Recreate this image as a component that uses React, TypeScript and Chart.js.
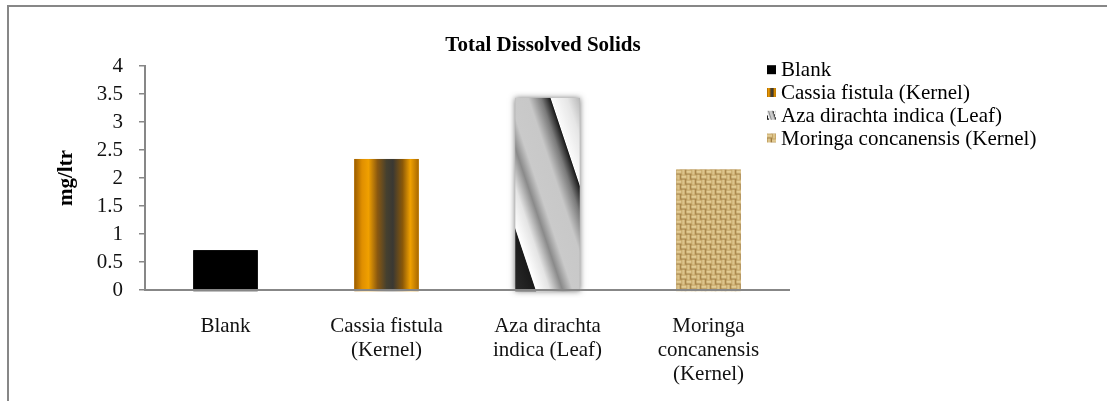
import React, { useEffect, useRef } from 'react';
import { Chart, registerables } from 'chart.js';

Chart.register(...registerables);

const TITLE = 'Total Dissolved Solids';
const Y_TITLE = 'mg/ltr';
const categories = ['Blank', 'Cassia fistula (Kernel)', 'Aza dirachta indica (Leaf)', 'Moringa concanensis (Kernel)'];
const categoryLines = [['Blank'], ['Cassia fistula', '(Kernel)'], ['Aza dirachta', 'indica (Leaf)'], ['Moringa', 'concanensis', '(Kernel)']];
const values = [0.71, 2.34, 3.43, 2.15];
const yTicks = [0, 0.5, 1, 1.5, 2, 2.5, 3, 3.5, 4];
const yTickLabels = ['0', '0.5', '1', '1.5', '2', '2.5', '3', '3.5', '4'];
const baseColors = ['#000000', '#e09000', '#b8b8b8', '#c9aa6c'];

const FONT = '"Liberation Serif", "Times New Roman", serif';
const AXIS_GRAY = '#878787';

type Rect = { l: number; t: number; r: number; b: number };

function fillBlank(ctx: CanvasRenderingContext2D, rc: Rect) {
  ctx.fillStyle = '#000000';
  ctx.fillRect(rc.l, rc.t, rc.r - rc.l, rc.b - rc.t);
}

function fillCassia(ctx: CanvasRenderingContext2D, rc: Rect) {
  const g = ctx.createLinearGradient(rc.l, 0, rc.r, 0);
  g.addColorStop(0, '#9a5c00');
  g.addColorStop(0.12, '#e08f00');
  g.addColorStop(0.22, '#f0a000');
  g.addColorStop(0.36, '#8a5810');
  g.addColorStop(0.5, '#45402f');
  g.addColorStop(0.6, '#3a3833');
  g.addColorStop(0.75, '#8a5808');
  g.addColorStop(0.87, '#f0a000');
  g.addColorStop(1, '#a86800');
  ctx.fillStyle = g;
  ctx.fillRect(rc.l, rc.t, rc.r - rc.l, rc.b - rc.t);
}

function fillAza(ctx: CanvasRenderingContext2D, rc: Rect, shadow: boolean) {
  const w = rc.r - rc.l;
  const h = rc.b - rc.t;
  if (shadow) {
    ctx.save();
    ctx.shadowColor = 'rgba(0,0,0,0.55)';
    ctx.shadowBlur = 6;
    ctx.fillStyle = '#bbbbbb';
    ctx.fillRect(rc.l, rc.t, w, h);
    ctx.restore();
  }
  const d = (3 * w + h) / 10;
  const g = ctx.createLinearGradient(rc.l, rc.b, rc.l + 3 * d, rc.b - d);
  g.addColorStop(0, '#2a2a2a');
  g.addColorStop(0.158, '#1a1a1a');
  g.addColorStop(0.165, '#ffffff');
  g.addColorStop(0.27, '#e4e4e4');
  g.addColorStop(0.37, '#8a8a8a');
  g.addColorStop(0.45, '#cacaca');
  g.addColorStop(0.6, '#c8c8c8');
  g.addColorStop(0.7, '#7a7a7a');
  g.addColorStop(0.77, '#1a1a1a');
  g.addColorStop(0.777, '#fbfbfb');
  g.addColorStop(0.9, '#e6e6e6');
  g.addColorStop(1, '#b8b8b8');
  ctx.fillStyle = g;
  ctx.fillRect(rc.l, rc.t, w, h);
}

let burlap: HTMLCanvasElement | null = null;
function getBurlap(): HTMLCanvasElement {
  if (burlap) return burlap;
  const pc = document.createElement('canvas');
  pc.width = 20;
  pc.height = 20;
  const p = pc.getContext('2d') as CanvasRenderingContext2D;
  p.fillStyle = '#c4a465';
  p.fillRect(0, 0, 20, 20);
  for (let i = 0; i < 4; i++) {
    for (let j = 0; j < 4; j++) {
      const x = i * 5;
      const y = j * 5;
      if ((i + j) % 2 === 0) {
        p.fillStyle = '#e2cb94';
        p.fillRect(x, y + 1, 5, 2);
        p.fillStyle = '#d6bb80';
        p.fillRect(x, y + 3, 5, 1);
        p.fillStyle = '#a5834a';
        p.fillRect(x, y + 4, 5, 1);
      } else {
        p.fillStyle = '#dcc48c';
        p.fillRect(x + 1, y, 2, 5);
        p.fillStyle = '#caa96c';
        p.fillRect(x + 3, y, 1, 5);
        p.fillStyle = '#9c7a40';
        p.fillRect(x + 4, y, 1, 5);
      }
    }
  }
  burlap = pc;
  return pc;
}

function fillMoringa(ctx: CanvasRenderingContext2D, rc: Rect) {
  const pat = ctx.createPattern(getBurlap(), 'repeat');
  if (!pat) return;
  pat.setTransform(new DOMMatrix().translateSelf(rc.l, rc.t));
  ctx.fillStyle = pat;
  ctx.fillRect(rc.l, rc.t, rc.r - rc.l, rc.b - rc.t);
}

function fillFor(i: number, ctx: CanvasRenderingContext2D, rc: Rect, shadow: boolean) {
  if (i === 0) fillBlank(ctx, rc);
  else if (i === 1) fillCassia(ctx, rc);
  else if (i === 2) fillAza(ctx, rc, shadow);
  else fillMoringa(ctx, rc);
}

const framePlugin = {
  id: 'frame',
  beforeDraw(chart: any) {
    const ctx = chart.ctx as CanvasRenderingContext2D;
    ctx.save();
    ctx.fillStyle = '#ffffff';
    ctx.fillRect(0, 0, chart.width, chart.height);
    ctx.strokeStyle = AXIS_GRAY;
    ctx.lineWidth = 2;
    ctx.beginPath();
    ctx.moveTo(8, chart.height);
    ctx.lineTo(8, 6);
    ctx.lineTo(chart.width, 6);
    ctx.stroke();
    ctx.restore();
  },
};

const barFillPlugin = {
  id: 'barFills',
  afterDatasetsDraw(chart: any) {
    const ctx = chart.ctx as CanvasRenderingContext2D;
    const meta = chart.getDatasetMeta(0);
    ctx.save();
    meta.data.forEach((el: any, i: number) => {
      const top = Math.min(el.y, el.base);
      const bottom = Math.max(el.y, el.base) + 2;
      const rc = { l: el.x - el.width / 2, r: el.x + el.width / 2, t: top, b: bottom };
      fillFor(i, ctx, rc, true);
    });
    const xs = chart.scales.x;
    ctx.strokeStyle = AXIS_GRAY;
    ctx.lineWidth = 2;
    ctx.beginPath();
    ctx.moveTo(chart.chartArea.left, xs.top);
    ctx.lineTo(chart.chartArea.right, xs.top);
    ctx.stroke();
    ctx.restore();
  },
};

const titleLegendPlugin = {
  id: 'titleLegend',
  afterDraw(chart: any) {
    const ctx = chart.ctx as CanvasRenderingContext2D;
    ctx.save();
    ctx.fillStyle = '#000000';
    ctx.font = `bold 21px ${FONT}`;
    ctx.textAlign = 'center';
    ctx.textBaseline = 'middle';
    ctx.fillText(TITLE, 543, 46);

    ctx.font = `21px ${FONT}`;
    ctx.textAlign = 'left';
    const rowY = [69.7, 92.5, 115.3, 138];
    categories.forEach((name, i) => {
      const cy = rowY[i];
      fillFor(i, ctx, { l: 767, t: cy - 4.5, r: 776, b: cy + 4.5 }, false);
      ctx.fillStyle = '#000000';
      ctx.fillText(name, 781, cy + 1);
    });
    ctx.restore();
  },
};

export default function App() {
  const ref = useRef<HTMLCanvasElement | null>(null);
  useEffect(() => {
    if (!ref.current) return;
    const chart = new Chart(ref.current, {
      type: 'bar',
      data: {
        labels: categoryLines as any,
        datasets: [
          {
            data: values,
            backgroundColor: baseColors,
            borderWidth: 0,
            barPercentage: 0.4,
            categoryPercentage: 1,
          },
        ],
      },
      options: {
        responsive: false,
        animation: false,
        layout: { padding: { left: 8, right: 318, top: 66, bottom: 0 } },
        plugins: {
          legend: { display: false },
          title: { display: false },
          tooltip: { enabled: false },
        },
        scales: {
          x: {
            grid: { display: false, drawTicks: false },
            border: { display: true, color: AXIS_GRAY, width: 2 },
            ticks: {
              padding: 25,
              color: '#111111',
              maxRotation: 0,
              autoSkip: false,
              font: { family: FONT, size: 21, lineHeight: 1.14 },
            },
            afterFit: (s: any) => {
              s.height = 111;
            },
          },
          y: {
            min: 0,
            max: 4,
            afterBuildTicks: (s: any) => {
              s.ticks = yTicks.map((v) => ({ value: v }));
            },
            grid: { drawOnChartArea: false, drawTicks: true, tickLength: 6, color: AXIS_GRAY, lineWidth: 1.5 },
            border: { display: true, color: AXIS_GRAY, width: 2 },
            ticks: {
              padding: 16,
              color: '#111111',
              autoSkip: false,
              font: { family: FONT, size: 21, lineHeight: 1 },
              callback: (_v: any, idx: number) => yTickLabels[idx],
            },
            title: {
              display: true,
              text: Y_TITLE,
              color: '#000000',
              font: { family: FONT, size: 21, weight: 'bold' },
              padding: { top: 46, bottom: 0 },
            },
            afterFit: (s: any) => {
              s.width = 137;
            },
          },
        },
      },
      plugins: [framePlugin, barFillPlugin, titleLegendPlugin],
    });
    return () => chart.destroy();
  }, []);
  return (
    <div style={{ position: 'fixed', left: 0, top: 0, width: 1107, height: 401, background: '#fff' }}>
      <canvas ref={ref} width={1107} height={401} style={{ display: 'block', width: 1107, height: 401 }} />
    </div>
  );
}
